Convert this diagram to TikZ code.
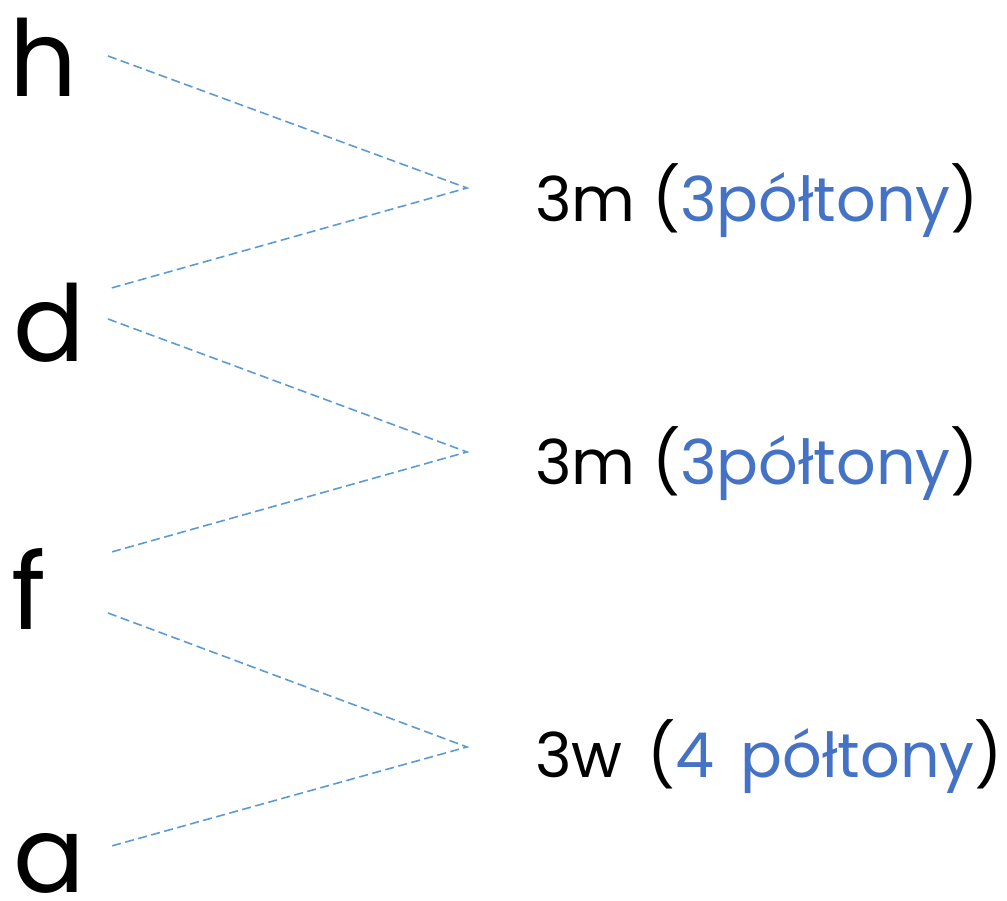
\documentclass[tikz,border=0pt]{standalone}
\usepackage{fontspec}
\setmainfont{Poppins}
\definecolor{lineblue}{HTML}{5B9BD5}
\definecolor{textblue}{HTML}{4472C4}
\begin{document}
\begin{tikzpicture}[x=1pt,y=1pt,
  note/.style={anchor=base west,inner sep=0pt,font=\fontsize{62}{70}\selectfont},
  letter/.style={anchor=base west,inner sep=0pt,font=\fontsize{106}{120}\selectfont},
  link/.style={draw=lineblue,line width=1.6pt,dash pattern=on 9pt off 4.5pt}]
\useasboundingbox (0,0) rectangle (1007,901);
\node[letter] (h) at (9,804) {h};
\node[letter] (d) at (13,539) {d};
\node[letter] (f) at (11,271) {f};
\node[letter] (a) at (13,8) {a};
\node[note] (l1) at (535,679) {3m (\textcolor{textblue}{3półtony})};
\node[note] (l2) at (535,416) {3m (\textcolor{textblue}{3półtony})};
\node[note] (l3) at (535,123) {3w\hspace{8pt} (\textcolor{textblue}{4\hspace{10pt} półtony})};
\coordinate (h1) at (108,845);
\coordinate (p1) at (467,713);
\coordinate (d1) at (108,612);
\coordinate (d2) at (108,582);
\coordinate (p2) at (467,449);
\coordinate (f1) at (108,348);
\coordinate (f2) at (108,288);
\coordinate (p3) at (467,154);
\coordinate (a1) at (108,54);
\draw[link] (h1) -- (p1) -- (d1);
\draw[link] (d2) -- (p2) -- (f1);
\draw[link] (f2) -- (p3) -- (a1);
\end{tikzpicture}
\end{document}
